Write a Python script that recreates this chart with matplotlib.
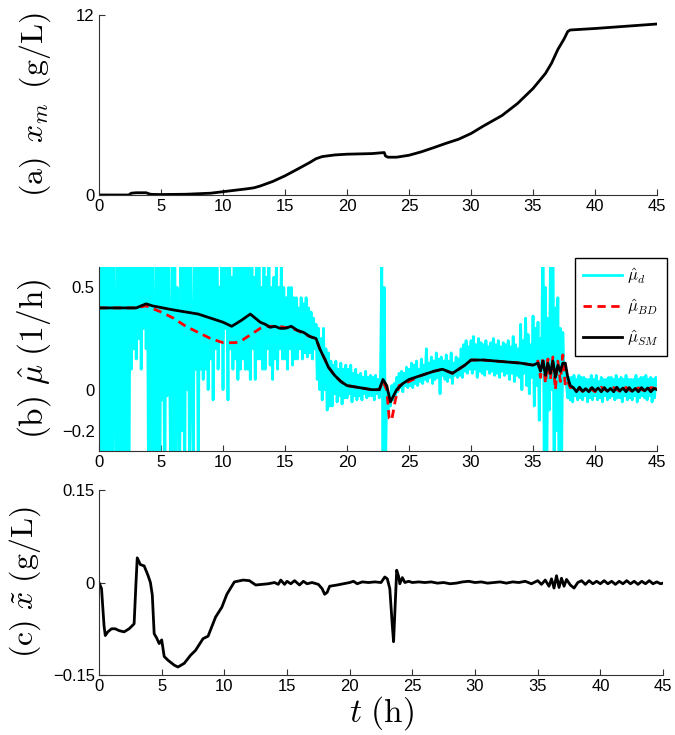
import numpy as np
import matplotlib
matplotlib.use('Agg')
from matplotlib import pyplot as plt

plt.rcParams['font.family'] = ['Liberation Sans', 'DejaVu Sans']
plt.rcParams['mathtext.fontset'] = 'cm'

# (a) measured biomass
t_a = [0, 2.4, 2.6, 3.0, 3.8, 4.1, 4.3, 5, 7, 9, 10, 11, 12, 12.5, 13, 14, 15, 16, 17, 17.5,
       18, 19, 20, 21, 22, 23.0, 23.1, 23.3, 24, 25, 26, 27, 28, 29, 30, 31, 32.5, 33.75, 35,
       36, 36.5, 37, 37.5, 37.8, 38, 40, 42.5, 45]
x_m = [0, 0, 0.12, 0.15, 0.15, 0.06, 0.04, 0.03, 0.05, 0.12, 0.22, 0.32, 0.42, 0.48, 0.6, 0.9,
       1.28, 1.72, 2.17, 2.42, 2.56, 2.67, 2.72, 2.74, 2.76, 2.83, 2.6, 2.52, 2.52, 2.65, 2.88,
       3.16, 3.45, 3.72, 4.1, 4.6, 5.3, 6.1, 7.1, 8.1, 8.8, 9.7, 10.4, 10.9, 11.0, 11.1, 11.25, 11.4]

# (b) growth rate estimates
# mu_d sampled every 0.1 h, one row per hour
mu_d = [
    0.9, -0.6, 0.8, -0.5, 0.9, -0.7, 0.7, -0.4, 0.9, -0.6,
    0.8, -0.5, 0.9, 0.1, -0.6, 0.8, -0.4, 0.9, -0.5, 0.7,
    -0.6, 0.9, -0.4, 0.8, -0.7, 0.6, 0.1, 0.9, 0.2, 0.8,
    0.15, 0.7, 0.25, 0.9, 0.1, 0.6, 0.3, 0.8, 0.2, 0.7,
    -0.6, 0.9, -0.5, 0.8, 0.1, -0.7, 0.9, -0.4, 0.7, -0.6,
    0.8, -0.05, 0.6, -0.7, 0.9, -0.03, 0.7, 0.1, -0.6, 0.8,
    -0.4, 0.9, -0.6, 0.5, 0.2, -0.5, 0.8, -0.2, 0.9, -0.6,
    0.7, 0.0, 0.9, -0.5, 0.6, 0.2, -0.4, 0.8, 0.1, 0.9,
    -0.5, 0.7, 0.1, 0.8, 0.05, 0.9, 0.1, 0.6, 0.0, 0.7,
    0.15, 0.8, -0.05, 0.6, 0.2, 0.9, 0.1, 0.5, 0.25, 0.7,
    0.0, 0.8, 0.3, 0.6, -0.05, 0.9, 0.2, 0.55, 0.1, 0.7,
    0.15, 0.8, 0.05, 0.6, 0.1, 0.9, 0.15, 0.7, 0.1, 0.75,
    0.1, 0.65, 0.05, 0.9, 0.2, 0.55, 0.05, 0.7, 0.15, 0.6,
    0.15, 0.5, 0.1, 0.7, 0.1, 0.55, 0.2, 0.6, 0.12, 0.5,
    0.05, 0.55, 0.15, 0.6, 0.1, 0.5, 0.2, 0.6, 0.15, 0.5,
    0.15, 0.45, 0.1, 0.5, 0.2, 0.5, 0.12, 0.45, 0.15, 0.45,
    0.15, 0.4, 0.2, 0.45, 0.15, 0.42, 0.18, 0.45, 0.16, 0.4,
    0.18, 0.38, 0.15, 0.35, 0.2, 0.32, 0.05, 0.3, 0.0, 0.25,
    -0.05, 0.3, 0.0, 0.2, -0.1, 0.18, -0.08, 0.14, -0.08, 0.12,
    -0.02, 0.14, -0.06, 0.1, -0.03, 0.13, -0.07, 0.1, -0.04, 0.12,
    -0.04, 0.1, -0.02, 0.12, -0.06, 0.08, -0.03, 0.1, -0.05, 0.07,
    -0.03, 0.08, -0.05, 0.06, -0.02, 0.09, -0.04, 0.06, -0.03, 0.07,
    -0.03, 0.06, -0.05, 0.07, -0.02, 0.05, -0.04, 0.07, 0.6, -0.4,
    0.5, -0.4, 0.0, -0.1, -0.02, -0.08, 0.02, -0.05, 0.03, -0.03,
    0.06, -0.01, 0.08, 0.01, 0.09, -0.01, 0.08, 0.02, 0.11, 0.01,
    0.1, 0.02, 0.13, 0.01, 0.12, 0.03, 0.14, 0.02, 0.1, 0.04,
    0.15, 0.03, 0.12, 0.05, 0.2, 0.04, 0.13, 0.06, 0.16, 0.03,
    0.14, 0.05, 0.18, 0.06, 0.15, -0.02, 0.16, 0.07, 0.14, 0.05,
    0.17, 0.04, 0.14, 0.06, 0.18, 0.03, 0.13, 0.07, 0.16, 0.06,
    0.15, 0.07, 0.2, 0.06, 0.22, 0.09, 0.24, 0.08, 0.21, 0.1,
    0.24, 0.08, 0.26, 0.1, 0.22, 0.06, 0.25, 0.09, 0.23, 0.08,
    0.22, 0.07, 0.24, 0.1, 0.21, 0.08, 0.23, 0.09, 0.25, 0.07,
    0.22, 0.08, 0.24, 0.06, 0.21, 0.09, 0.23, 0.07, 0.22, 0.08,
    0.24, 0.05, 0.21, 0.08, 0.26, 0.04, 0.22, 0.07, 0.2, 0.06,
    0.32, 0.0, 0.24, 0.08, 0.35, 0.02, 0.27, -0.02, 0.22, 0.06,
    0.36, -0.08, 0.3, 0.02, 0.33, -0.15, 0.25, 0.1, 0.9, -0.4,
    0.5, -0.5, 0.35, -0.1, 0.6, 0.0, 0.9, -0.6, 0.4, -0.2,
    0.45, -0.5, 0.3, -0.4, 0.28, 0.05, 0.1, 0.02, -0.04, 0.06,
    -0.05, 0.06, -0.06, 0.07, -0.03, 0.05, -0.05, 0.07, -0.04, 0.06,
    -0.05, 0.06, -0.03, 0.05, -0.06, 0.05, -0.04, 0.07, -0.05, 0.05,
    -0.03, 0.07, -0.05, 0.04, -0.04, 0.06, -0.06, 0.05, -0.03, 0.05,
    -0.05, 0.06, -0.04, 0.06, -0.03, 0.05, -0.05, 0.07, -0.04, 0.05,
    -0.04, 0.06, -0.06, 0.05, -0.03, 0.07, -0.05, 0.05, -0.04, 0.05,
    -0.05, 0.05, -0.03, 0.07, -0.06, 0.05, -0.04, 0.06, -0.03, 0.06,
    -0.04, 0.07, -0.05, 0.05, -0.03, 0.06, -0.06, 0.05, -0.04, 0.06,
    0.02]
t_d = np.arange(len(mu_d)) * 0.1

t_bd = [0, 3.0, 3.8, 5, 6, 7, 8, 9, 10, 11, 11.5, 12, 13, 13.5, 14.5, 15.5, 16, 17, 17.5, 17.8,
        18.2, 18.5, 19, 19.5, 20, 21, 22, 22.6, 22.9, 23.2, 23.4, 23.6, 23.9, 24.2, 25, 26, 27,
        27.7, 28.5, 29, 29.5, 30, 31, 32, 33, 34, 35, 35.4, 35.6, 35.8, 36.0, 36.2, 36.4, 36.6,
        36.8, 37.0, 37.2, 37.4, 37.6, 37.8, 38.0, 38.5, 39, 39.5, 40, 40.5, 41, 41.5, 42, 42.5,
        43, 43.5, 44, 44.5, 45]
mu_bd = [0.40, 0.40, 0.41, 0.38, 0.35, 0.31, 0.28, 0.25, 0.23, 0.23, 0.24, 0.26, 0.30, 0.31,
         0.31, 0.30, 0.29, 0.26, 0.25, 0.20, 0.15, 0.11, 0.07, 0.04, 0.02, 0.01, 0.0, 0.0, 0.04,
         0.0, -0.14, -0.15, -0.05, 0.02, 0.04, 0.07, 0.09, 0.10, 0.08, 0.10, 0.12, 0.145, 0.145,
         0.14, 0.135, 0.13, 0.12, 0.14, 0.06, 0.16, 0.03, 0.15, 0.05, 0.16, 0.0, 0.14, 0.04, 0.17,
         0.02, 0.04, 0.01, 0.012, -0.008, 0.01, -0.01, 0.012, -0.006, 0.01, -0.008, 0.011,
         -0.01, 0.009, -0.007, 0.01, 0.005]

t_sm = [0, 3.0, 3.8, 4.3, 6, 8, 10, 10.7, 11.5, 12.2, 13, 13.4, 13.8, 14.2, 14.6, 15, 15.5,
        16, 16.5, 17, 17.5, 17.8, 18.2, 18.5, 19, 19.5, 20, 21, 22, 22.6, 22.9, 23.2, 23.5, 24,
        24.5, 25, 26, 27, 27.7, 28.5, 29, 29.5, 30, 31, 32, 33, 34, 35, 35.4, 35.6, 35.8, 36.0,
        36.2, 36.4, 36.6, 36.8, 37.0, 37.2, 37.4, 37.6, 37.8, 38.0, 38.25, 38.5, 38.75, 39,
        39.25, 39.5, 39.75, 40, 40.25, 40.5, 40.75, 41, 41.25, 41.5, 41.75, 42, 42.25, 42.5,
        42.75, 43, 43.25, 43.5, 43.75, 44, 44.25, 44.5, 44.75, 45]
mu_sm = [0.40, 0.40, 0.42, 0.41, 0.39, 0.37, 0.33, 0.31, 0.34, 0.37, 0.33, 0.32, 0.305, 0.31,
         0.30, 0.30, 0.31, 0.29, 0.28, 0.26, 0.25, 0.20, 0.15, 0.11, 0.07, 0.04, 0.02, 0.01,
         0.0, 0.0, 0.05, 0.02, -0.06, 0.0, 0.03, 0.05, 0.07, 0.09, 0.10, 0.08, 0.10, 0.12, 0.145,
         0.145, 0.14, 0.135, 0.13, 0.12, 0.13, 0.09, 0.14, 0.07, 0.13, 0.08, 0.14, 0.06, 0.12,
         0.09, 0.13, 0.13, 0.06, 0.02, 0.01, -0.01, 0.012, -0.008, 0.005, -0.01, 0.01, -0.006,
         0.008, -0.01, 0.01, -0.008, 0.006, -0.01, 0.012, -0.006, 0.008, -0.01, 0.01, -0.008,
         0.006, -0.01, 0.01, -0.006, 0.008, -0.01, 0.006, 0.0]

# (c) estimation error
t_c = [0, 0.2, 0.4, 0.5, 0.7, 1.0, 1.3, 1.6, 2.0, 2.4, 2.8, 2.95, 3.05, 3.3, 3.6, 3.9, 4.1,
       4.25, 4.4, 4.6, 4.8, 5.0, 5.2, 5.5, 6.0, 6.3, 6.8, 7.3, 7.7, 8.3, 8.7, 9.3, 9.8, 10.2,
       10.8, 11.5, 12.0, 12.5, 13, 13.5, 14, 14.3, 14.5, 14.8, 15, 15.3, 15.6, 16, 16.3, 16.6,
       17, 17.5, 17.8, 18.0, 18.2, 18.4, 18.7, 19, 19.5, 20, 20.3, 20.6, 21, 21.5, 22, 22.5,
       22.8, 23.0, 23.2, 23.4, 23.5, 23.6, 23.75, 23.9, 24.0, 24.2, 24.4, 24.7, 25, 25.5, 26,
       26.5, 27, 27.5, 28, 28.5, 29, 29.5, 30, 30.5, 31, 31.5, 32, 32.5, 33, 33.5, 34, 34.5,
       35, 35.3, 35.6, 35.9, 36.1, 36.3, 36.5, 36.7, 36.9, 37.1, 37.3, 37.6, 37.9, 38.2, 38.5,
       38.8, 39.1, 39.4, 39.7, 40, 40.3, 40.6, 40.9, 41.2, 41.5, 41.8, 42.1, 42.4, 42.7, 43,
       43.3, 43.6, 43.9, 44.2, 44.5, 44.8, 45]
x_err = [0, -0.01, -0.07, -0.086, -0.08, -0.075, -0.075, -0.078, -0.08, -0.075, -0.067, 0.0,
         0.04, 0.029, 0.027, 0.012, 0.0, -0.02, -0.083, -0.09, -0.099, -0.093, -0.12, -0.126,
         -0.134, -0.137, -0.131, -0.118, -0.11, -0.091, -0.087, -0.056, -0.04, -0.019, 0.001,
         0.004, 0.003, -0.004, -0.003, -0.002, 0.0, -0.003, 0.004, -0.003, 0.002, -0.002, 0.003,
         -0.004, 0.002, -0.002, 0.0, -0.003, -0.01, -0.019, -0.016, -0.006, -0.005, -0.004,
         -0.002, 0.0, 0.002, -0.002, 0.001, 0.0, 0.001, 0.0, 0.009, 0.006, -0.01, -0.07, -0.096,
         -0.05, 0.02, 0.01, -0.002, 0.008, 0.0, 0.002, 0.0, 0.001, 0.0, 0.001, -0.001, 0.0,
         -0.002, -0.001, 0.001, 0.002, 0.0, 0.001, -0.001, 0.0, 0.001, -0.001, 0.001, 0.0, 0.002,
         -0.002, 0.003, -0.003, 0.004, -0.006, 0.006, -0.009, 0.011, -0.008, 0.007, -0.006,
         0.005, -0.004, -0.009, 0.0, 0.003, -0.003, 0.003, -0.002, 0.002, -0.002, 0.003, -0.002,
         0.002, -0.003, 0.002, -0.002, 0.003, -0.002, 0.002, -0.003, 0.002, -0.002, 0.003,
         -0.002, 0.001, -0.002, -0.001]

xticks = list(range(0, 46, 5))

fig = plt.figure(figsize=(6.75, 7.35), dpi=100)
ax1 = fig.add_axes([0.1467, 0.7347, 0.8267, 0.2449])
ax2 = fig.add_axes([0.1467, 0.3864, 0.8267, 0.2503])
ax3 = fig.add_axes([0.1467, 0.0816, 0.8356, 0.2517])

ax1.plot(t_a, x_m, color='black', lw=2)
ax1.set_ylim(0, 12)
ax1.set_yticks([0, 12])
ax1.set_ylabel(r'$\mathrm{(a)}\ \,x_m\ \,\mathrm{(g/L)}$', fontsize=23)

ax2.plot(t_d, mu_d, color='cyan', lw=2, label=r'$\hat{\mu}_d$')
ax2.plot(t_bd, mu_bd, color='red', lw=2, ls='--', dashes=(3, 2), label=r'$\hat{\mu}_{BD}$')
ax2.plot(t_sm, mu_sm, color='black', lw=2, label=r'$\hat{\mu}_{SM}$')
ax2.set_ylim(-0.3, 0.6)
ax2.set_yticks([-0.2, 0, 0.5])
ax2.set_yticklabels(['\u22120.2', '0', '0.5'])
ax2.set_ylabel(r'$\mathrm{(b)}\ \hat{\mu}\ \mathrm{(1/h)}$', fontsize=24)
leg = ax2.legend(loc='upper right', bbox_to_anchor=(1.018, 1.049), fontsize=12,
                 fancybox=False, edgecolor='black', framealpha=1, handlelength=2.3,
                 borderpad=0.5, labelspacing=0.65, handletextpad=0.3, borderaxespad=0)
leg.get_frame().set_linewidth(1.0)

ax3.plot(t_c, x_err, color='black', lw=2)
ax3.set_ylim(-0.15, 0.15)
ax3.set_yticks([-0.15, 0, 0.15])
ax3.set_yticklabels(['\u22120.15', '0', '0.15'])
ax3.set_ylabel(r'$\mathrm{(c)}\ \tilde{x}\ \mathrm{(g/L)}$', fontsize=23)
ax3.set_xlabel(r'$t\ \mathrm{(h)}$', fontsize=24, labelpad=0)

for ax in (ax1, ax2, ax3):
    ax.set_xlim(0, 45)
    ax.set_xticks(xticks)
    ax.spines['top'].set_visible(False)
    ax.spines['right'].set_visible(False)
    for s in ('left', 'bottom'):
        ax.spines[s].set_color('#333333')
        ax.spines[s].set_linewidth(0.8)
    ax.tick_params(direction='in', length=4, width=0.8, labelsize=12, colors='#333333',
                   labelcolor='black', pad=3)

ax1.yaxis.set_label_coords(-0.082, 0.5)
ax2.yaxis.set_label_coords(-0.082, 0.5)
ax3.yaxis.set_label_coords(-0.099, 0.5)

plt.savefig('out.png', dpi=100)
